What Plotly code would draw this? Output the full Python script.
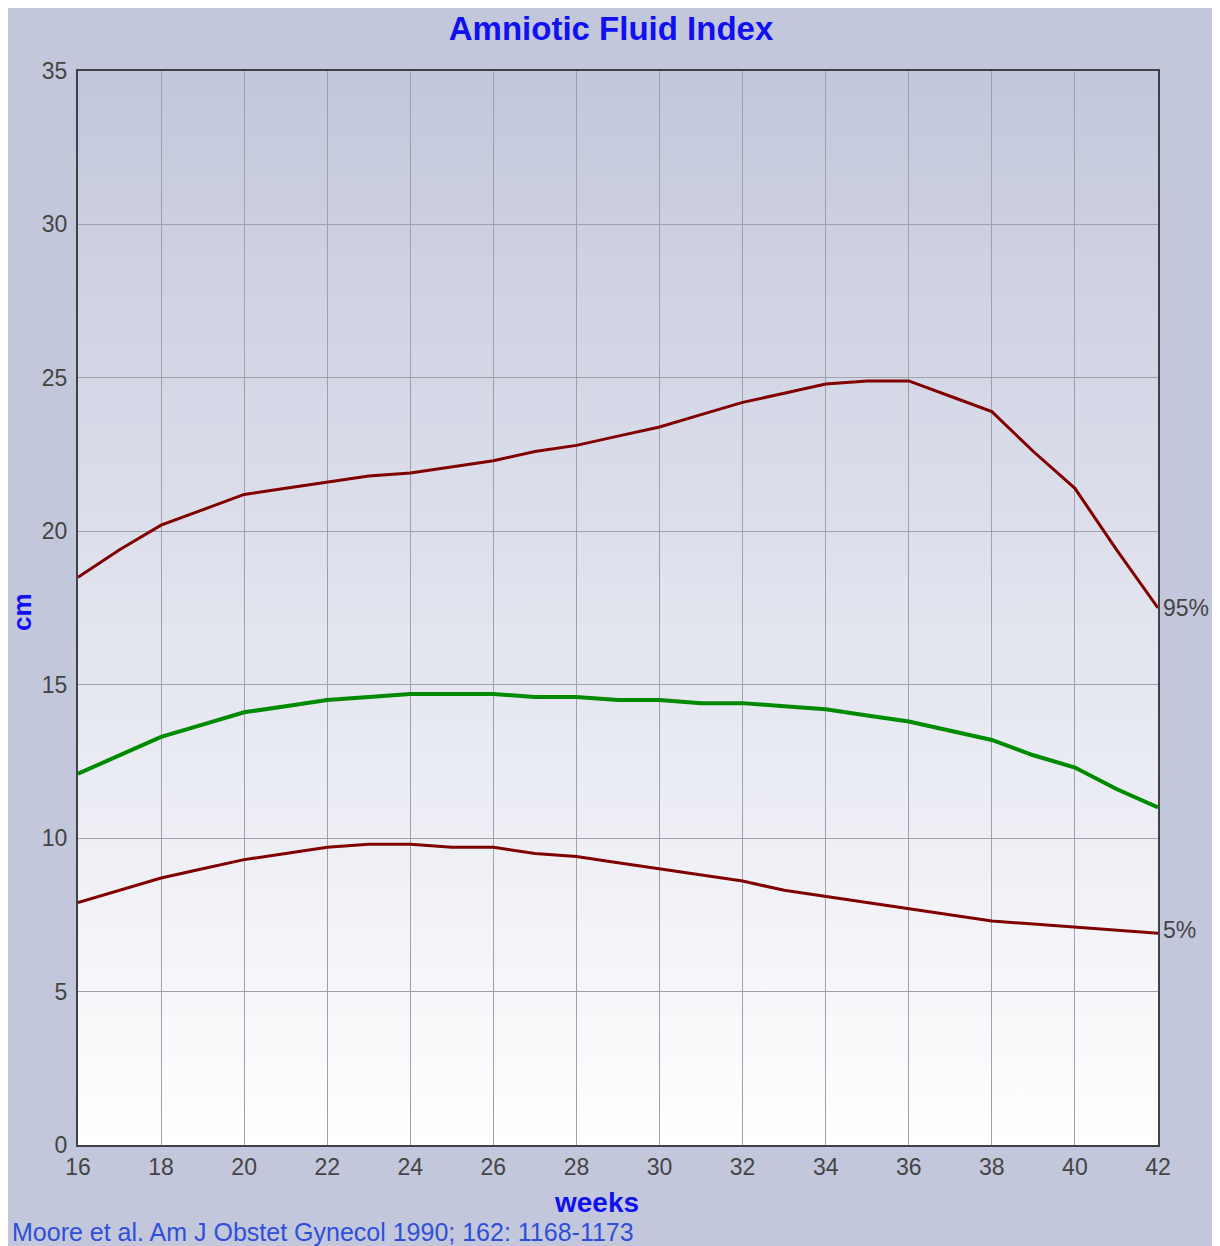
import base64
import plotly.graph_objects as go

weeks = list(range(16, 43))
p5 = [7.9, 8.3, 8.7, 9.0, 9.3, 9.5, 9.7, 9.8, 9.8, 9.7, 9.7, 9.5, 9.4, 9.2, 9.0,
      8.8, 8.6, 8.3, 8.1, 7.9, 7.7, 7.5, 7.3, 7.2, 7.1, 7.0, 6.9]
p50 = [12.1, 12.7, 13.3, 13.7, 14.1, 14.3, 14.5, 14.6, 14.7, 14.7, 14.7, 14.6, 14.6,
       14.5, 14.5, 14.4, 14.4, 14.3, 14.2, 14.0, 13.8, 13.5, 13.2, 12.7, 12.3, 11.6, 11.0]
p95 = [18.5, 19.4, 20.2, 20.7, 21.2, 21.4, 21.6, 21.8, 21.9, 22.1, 22.3, 22.6, 22.8,
       23.1, 23.4, 23.8, 24.2, 24.5, 24.8, 24.9, 24.9, 24.4, 23.9, 22.6, 21.4, 19.4, 17.5]
x_ticks = list(range(16, 43, 2))
y_ticks = list(range(0, 36, 5))
end_labels = ["95%", "5%"]

BG = "#C3C7DC"
FONT = "Liberation Sans, Arial, sans-serif"
W, H = 1206, 1238
L, R, T, B = 70, 56, 63, 101
PW, PH = W - L - R, H - T - B

# gradient background image (drawn below gridlines)
svg = ('<svg xmlns="http://www.w3.org/2000/svg" width="100" height="100" preserveAspectRatio="none">'
       '<defs><linearGradient id="g" x1="0" y1="0" x2="0" y2="1">'
       '<stop offset="0" stop-color="#C3C7DC"/><stop offset="1" stop-color="#FFFFFF"/>'
       '</linearGradient></defs><rect width="100" height="100" fill="url(#g)"/></svg>')
svg_uri = "data:image/svg+xml;base64," + base64.b64encode(svg.encode()).decode()

fig = go.Figure()
fig.add_trace(go.Scatter(x=weeks, y=p95, mode="lines", name="95%",
                         line=dict(color="#800000", width=3)))
fig.add_trace(go.Scatter(x=weeks, y=p50, mode="lines", name="50%",
                         line=dict(color="#008A00", width=4)))
fig.add_trace(go.Scatter(x=weeks, y=p5, mode="lines", name="5%",
                         line=dict(color="#800000", width=3)))

fig.add_layout_image(dict(source=svg_uri, xref="paper", yref="paper", x=0, y=1,
                          sizex=1, sizey=1, sizing="stretch", xanchor="left",
                          yanchor="top", layer="below"))

fig.update_layout(
    width=W, height=H,
    margin=dict(l=L, r=R, t=T, b=B),
    paper_bgcolor=BG, plot_bgcolor="white",
    showlegend=False,
    font=dict(family=FONT, size=22, color="#444444"),
    title=dict(text="<b>Amniotic Fluid Index</b>", x=(611 - 8) / W, xanchor="center",
               y=1 - 20 / H, yanchor="middle",
               font=dict(family=FONT, size=33, color="#1010F0")),
)
fig.update_xaxes(
    range=[16, 42], tickvals=x_ticks, ticks="", showgrid=True,
    gridcolor="#A0A0AA", gridwidth=1, zeroline=False,
    showline=True, linecolor="#404048", linewidth=2, mirror=True,
    tickfont=dict(size=23, color="#444444"),
)
fig.update_yaxes(
    range=[0, 35], tickvals=y_ticks, ticks="", showgrid=True,
    gridcolor="#A0A0AA", gridwidth=1, zeroline=False,
    showline=True, linecolor="#404048", linewidth=2, mirror=True,
    tickfont=dict(size=23, color="#444444"), ticklabelstandoff=4,
)

# axis titles
fig.add_annotation(xref="paper", yref="paper", x=518 / PW, y=-58 / PH,
                   text="<b>weeks</b>", showarrow=False, xanchor="center", yanchor="middle",
                   font=dict(size=28, color="#1010F0"))
fig.add_annotation(xref="paper", yref="paper", x=-56 / PW, y=1 - 541 / PH,
                   text="<b>cm</b>", showarrow=False, textangle=-90,
                   xanchor="center", yanchor="middle",
                   font=dict(size=26, color="#1010F0"))

# end labels
fig.add_annotation(x=42, y=p95[-1], text=end_labels[0], showarrow=False,
                   xanchor="left", xshift=3, font=dict(size=23, color="#444444"))
fig.add_annotation(x=42, y=p5[-1], text=end_labels[1], showarrow=False,
                   xanchor="left", xshift=3, yshift=3, font=dict(size=23, color="#444444"))

# citation
fig.add_annotation(xref="paper", yref="paper", x=-68 / PW, y=-87 / PH,
                   text="Moore et al. Am J Obstet Gynecol 1990; 162: 1168-1173",
                   showarrow=False, xanchor="left", yanchor="middle",
                   font=dict(size=25, color="#2F4FD8"))

fig.write_html("out.html")
